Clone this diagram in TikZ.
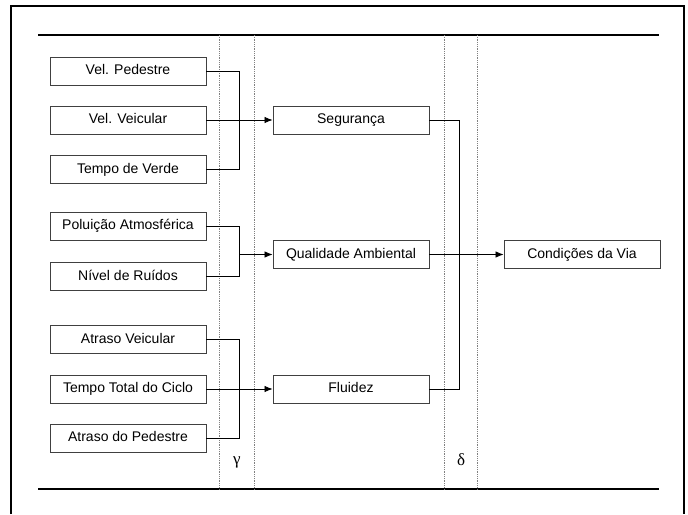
\documentclass[tikz,border=0pt]{standalone}
\usepackage{fontspec}
\setmainfont{Liberation Sans}
\newfontfamily\grego{Liberation Serif}
\usepackage{tikz}
\usetikzlibrary{arrows.meta}

\begin{document}
\begin{tikzpicture}[x=1pt,y=-1pt,every node/.style={font=\fontsize{14}{16}\selectfont},
  box/.style={draw=black!75,line width=0.9pt,minimum width=156pt,minimum height=28pt,inner sep=0pt,text height=10pt,text depth=3pt},
  link/.style={draw=black,line width=0.8pt},
  tip/.style={-{Latex[length=8pt,width=6.5pt]}},
  sep/.style={draw=black!50,line width=0.8pt,densely dotted}]
\useasboundingbox (0,0) rectangle (688,514);
% moldura e faixas
\draw[line width=1.5pt] (11,514) -- (11,6) -- (684,6) -- (684,514);
\draw[line width=2.5pt] (38,35) -- (659,35);
\draw[line width=2.5pt] (38,489) -- (659,489);
\draw[sep] (219,35) -- (219,490);
\draw[sep] (254,35) -- (254,490);
\draw[sep] (444,35) -- (444,490);
\draw[sep] (477,35) -- (477,490);
% indicadores
\node[box] (vp) at (128,71) {Vel. Pedestre};
\node[box] (vv) at (128,120) {Vel. Veicular};
\node[box] (tv) at (128,169.5) {Tempo de Verde};
\node[box] (pa) at (128,226) {Poluição Atmosférica};
\node[box] (nr) at (128,276.5) {Nível de Ruídos};
\node[box] (av) at (128,339.5) {Atraso Veicular};
\node[box] (tt) at (128,389) {Tempo Total do Ciclo};
\node[box] (ap) at (128,438) {Atraso do Pedestre};
% criterios
\node[box] (seg) at (351,120) {Segurança};
\node[box] (qa) at (351,254.5) {Qualidade Ambiental};
\node[box] (fl) at (351,389) {Fluidez};
\node[box] (cv) at (582,254.5) {Condições da Via};
% ligacoes
\coordinate (jg) at (239,0);
\draw[link] (vp.east) -- ++(33,0) |- (tv.east);
\draw[link,tip] (vv.east) -- (seg.west);
\draw[link] (pa.east) -- ++(33,0) |- (nr.east);
\draw[link,tip] (jg |- qa.west) -- (qa.west);
\draw[link] (av.east) -- ++(33,0) |- (ap.east);
\draw[link,tip] (tt.east) -- (fl.west);
\draw[link] (seg.east) -- ++(30,0) |- (fl.east);
\draw[link,tip] (qa.east) -- (cv.west);
% niveis
\node (gama) at (237,462) {\grego\fontsize{17}{19}\selectfont γ};
\node (delta) at (461,460) {\grego\fontsize{17}{19}\selectfont δ};
\end{tikzpicture}
\end{document}
